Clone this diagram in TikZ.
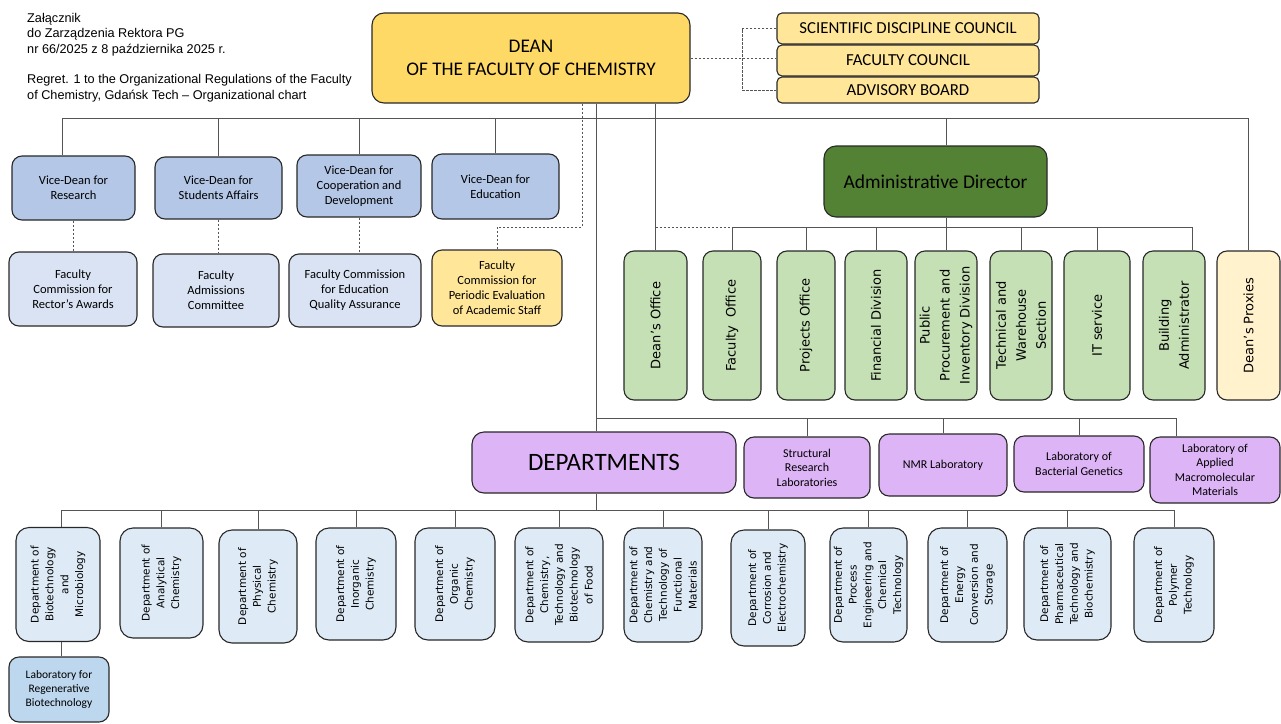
\documentclass[tikz,border=0pt]{standalone}
\usepackage{fontspec}
\setmainfont{Carlito}
\newfontfamily\arialf{Liberation Sans}
\newfontfamily\verd{DejaVu Sans}
\definecolor{deanY}{RGB}{255,217,102}
\definecolor{cY}{RGB}{255,230,153}
\definecolor{vdB}{RGB}{180,199,231}
\definecolor{comB}{RGB}{218,227,243}
\definecolor{adG}{RGB}{84,130,53}
\definecolor{offG}{RGB}{197,224,180}
\definecolor{proxY}{RGB}{255,242,204}
\definecolor{purp}{RGB}{221,180,246}
\definecolor{deptB}{RGB}{222,235,247}
\definecolor{regB}{RGB}{189,215,238}
\definecolor{bord}{RGB}{40,40,40}
\definecolor{lnc}{RGB}{85,85,85}
\tikzset{
 bx/.style={draw=bord, line width=1.1pt, rounded corners=10pt, align=center, inner sep=1pt},
 ln/.style={draw=lnc, line width=0.9pt},
 dl/.style={draw=lnc, line width=0.9pt, dash pattern=on 2.5pt off 1.5pt},
 hx/.style={bx, font=\fontsize{12.5}{15}\selectfont},
 vt/.style={bx, rotate=90, font=\verd\fontsize{13}{20}\selectfont, fill=offG},
 dt/.style={bx, rotate=90, font=\verd\fontsize{10.5}{14.8}\selectfont, fill=deptB, rounded corners=13pt},
 lb/.style={bx, fill=purp, font=\fontsize{12}{14.5}\selectfont},
 hd/.style={anchor=base west, inner sep=0, font=\arialf\fontsize{12.7}{15.3}\selectfont},
}
\begin{document}
\begin{tikzpicture}[x=1pt,y=-1pt]
\useasboundingbox (0,0) rectangle (1281,723);
% header
\node[hd] (h1) at (27,22.5) {Załącznik};
\node[hd] (h2) at (27,37.8) {do Zarządzenia Rektora PG};
\node[hd] (h3) at (27,53.1) {nr 66/2025 z 8 października 2025 r.};
\node[hd] (h4) at (27,83.7) {Regret. 1 to the Organizational Regulations of the Faculty};
\node[hd] (h5) at (27,99) {of Chemistry, Gdańsk Tech – Organizational chart};
% dean and councils
\node[bx, fill=deanY, minimum width=318, minimum height=90, rounded corners=12pt, font=\fontsize{19.3}{22.5}\selectfont] (dean) at (531,58) {DEAN\\OF THE FACULTY OF CHEMISTRY};
\node[bx, fill=cY, minimum width=262, minimum height=31, rounded corners=5pt, font=\fontsize{16.8}{18}\selectfont] (sdc) at (908,28.5) {SCIENTIFIC DISCIPLINE COUNCIL};
\node[bx, fill=cY, minimum width=262, minimum height=31, rounded corners=5pt, font=\fontsize{16.8}{18}\selectfont] (fc) at (908,60.5) {FACULTY COUNCIL};
\node[bx, fill=cY, minimum width=262, minimum height=26, rounded corners=5pt, font=\fontsize{16.8}{18}\selectfont] (abd) at (908,90) {ADVISORY BOARD};
\coordinate (cj) at (742,0);
\draw[dl] (dean.east) -- (dean.east -| fc.west);
\draw[dl] (sdc.west) -- (sdc.west -| cj) -- (abd.west -| cj) -- (abd.west);
% vice-deans
\node[hx, fill=vdB, minimum width=123, minimum height=64] (vdr) at (73.5,188) {Vice-Dean for\\Research};
\node[hx, fill=vdB, minimum width=127, minimum height=62] (vds) at (218.5,188) {Vice-Dean for\\Students Affairs};
\node[hx, fill=vdB, minimum width=124, minimum height=62] (vdc) at (359,186) {Vice-Dean for\\Cooperation and\\Development};
\node[hx, fill=vdB, minimum width=127, minimum height=65] (vde) at (495.5,186.5) {Vice-Dean for\\Education};
% commissions
\node[hx, fill=comB, minimum width=128, minimum height=74] (rca) at (73,289) {Faculty\\Commission for\\Rector’s Awards};
\node[hx, fill=comB, minimum width=126, minimum height=73] (adm) at (216,290.5) {Faculty\\Admissions\\Committee};
\node[hx, fill=comB, minimum width=132, minimum height=73] (eqa) at (355,290.5) {Faculty Commission\\for Education\\Quality Assurance};
\node[hx, fill=cY, minimum width=130, minimum height=76] (pe) at (497,288) {Faculty\\Commission for\\Periodic Evaluation\\of Academic Staff};
\draw[dl] (vdr.south) -- (vdr.south |- rca.north);
\draw[dl] (vds.south) -- (vds.south |- adm.north);
\draw[dl] (vdc.south) -- (vdc.south |- eqa.north);
\coordinate (pj) at (582,227);
\draw[dl] (dean.south -| pj) -- (pj) -| (pe.north);
% administrative director and offices
\node[bx, fill=adG, minimum width=223, minimum height=71, rounded corners=12pt, font=\fontsize{19.5}{22}\selectfont] (ad) at (935.5,181.5) {Administrative Director};
\node[vt, minimum width=149, minimum height=63] (do) at (655.5,325.5) {Dean’s Office};
\node[vt, minimum width=149, minimum height=58] (fo) at (732,325.5) {Faculty\ \ Office};
\node[vt, minimum width=149, minimum height=58] (po) at (806,325.5) {Projects Office};
\node[vt, minimum width=149, minimum height=62] (fd) at (876,325.5) {Financial Division};
\node[vt, minimum width=149, minimum height=62] (pp) at (946,325.5) {Public\\Procurement and\\Inventory Division};
\node[vt, minimum width=149, minimum height=62] (tw) at (1021,325.5) {Technical and\\Warehouse\\Section};
\node[vt, minimum width=149, minimum height=66] (it) at (1097,325.5) {IT service};
\node[vt, minimum width=149, minimum height=62] (ba) at (1174,325.5) {Building\\Administrator};
\node[vt, fill=proxY, minimum width=149, minimum height=63] (dp) at (1248.5,325.5) {Dean’s Proxies};
% main bus
\coordinate (rL) at (62,118);
\coordinate (adx) at (946,0);
\draw[ln] (vdr.north -| rL) -- (rL) -- (rL -| dp.east) -- (dp.east);
\draw[ln] (vds.north) -- (vds.north |- rL);
\draw[ln] (vdc.north) -- (vdc.north |- rL);
\draw[ln] (vde.north) -- (vde.north |- rL);
\draw[ln] (ad.north -| adx) -- (rL -| adx);
\draw[ln] (dean.south -| do.east) -- (do.east);
% admin bus
\coordinate (abus) at (0,227);
\coordinate (bj) at (1192,227);
\draw[dl] (do.east |- abus) -- (fo.east |- abus);
\draw[ln] (fo.east |- abus) -- (bj) -- (bj |- ba.east);
\draw[ln] (ad.south -| adx) -- (adx |- abus);
\foreach \n in {fo,po,fd,pp,tw,it} \draw[ln] (\n.east) -- (\n.east |- abus);
% departments and labs
\node[bx, fill=purp, minimum width=264, minimum height=61, rounded corners=12pt, font=\fontsize{25}{28}\selectfont] (deps) at (604,462.5) {DEPARTMENTS};
\node[lb, minimum width=126, minimum height=61] (srl) at (807,467.5) {Structural\\Research\\Laboratories};
\node[lb, minimum width=128, minimum height=62] (nmr) at (943,465) {NMR Laboratory};
\node[lb, minimum width=130, minimum height=56] (lbg) at (1079,464) {Laboratory of\\Bacterial Genetics};
\node[lb, minimum width=130, minimum height=66] (lam) at (1215,470) {Laboratory of\\Applied\\Macromolecular\\Materials};
\coordinate (tr) at (596,418);
\coordinate (am) at (1176,418);
\draw[ln] (dean.south -| tr) -- (deps.north -| tr);
\draw[ln] (tr) -- (am) -- (am |- lam.north);
\foreach \n in {srl,nmr,lbg} \draw[ln] (\n.north) -- (\n.north |- tr);
% department row
\node[dt, minimum width=114, minimum height=84] (d1) at (58,584.5) {Department of\\Biotechnology\\and\\Microbiology};
\node[dt, minimum width=110, minimum height=83] (d2) at (161.5,583) {Department of\\Analytical\\Chemistry};
\node[dt, minimum width=113, minimum height=78] (d3) at (258,586.5) {Department of\\Physical\\Chemistry};
\node[dt, minimum width=112, minimum height=80] (d4) at (356,584) {Department of\\Inorganic\\Chemistry};
\node[dt, minimum width=112, minimum height=80] (d5) at (455,584) {Department of\\Organic\\Chemistry};
\node[dt, minimum width=114, minimum height=88] (d6) at (559,585) {Department of\\Chemistry,\\Technology and\\Biotechnology\\of Food};
\node[dt, minimum width=114, minimum height=78] (d7) at (663,585) {Department of\\Chemistry and\\Technology of\\Functional\\Materials};
\node[dt, minimum width=116, minimum height=74] (d8) at (768,588) {Department of\\Corrosion and\\Electrochemistry};
\node[dt, minimum width=114, minimum height=77] (d9) at (868.5,585) {Department of\\Process\\Engineering and\\Chemical\\Technology};
\node[dt, minimum width=114, minimum height=79] (d10) at (967.5,585) {Department of\\Energy\\Conversion and\\Storage};
\node[dt, minimum width=112, minimum height=87] (d11) at (1067.5,584) {Department of\\Pharmaceutical\\Technology and\\Biochemistry};
\node[dt, minimum width=114, minimum height=80] (d12) at (1174,585) {Department of\\Polymer\\Technology};
\node[bx, fill=regB, minimum width=100, minimum height=65, font=\fontsize{11.5}{14}\selectfont] (reg) at (59,689.5) {Laboratory for\\Regenerative\\Biotechnology};
\coordinate (dbus) at (61,510);
\draw[ln] (deps.south -| tr) -- (tr |- dbus);
\draw[ln] (d1.east -| dbus) -- (dbus) -- (dbus -| d12.east) -- (d12.east);
\foreach \n in {d2,d3,d4,d5,d6,d7,d8,d9,d10,d11} \draw[ln] (\n.east) -- (\n.east |- dbus);
\draw[ln] (d1.west -| dbus) -- (reg.north -| dbus);
\end{tikzpicture}
\end{document}
